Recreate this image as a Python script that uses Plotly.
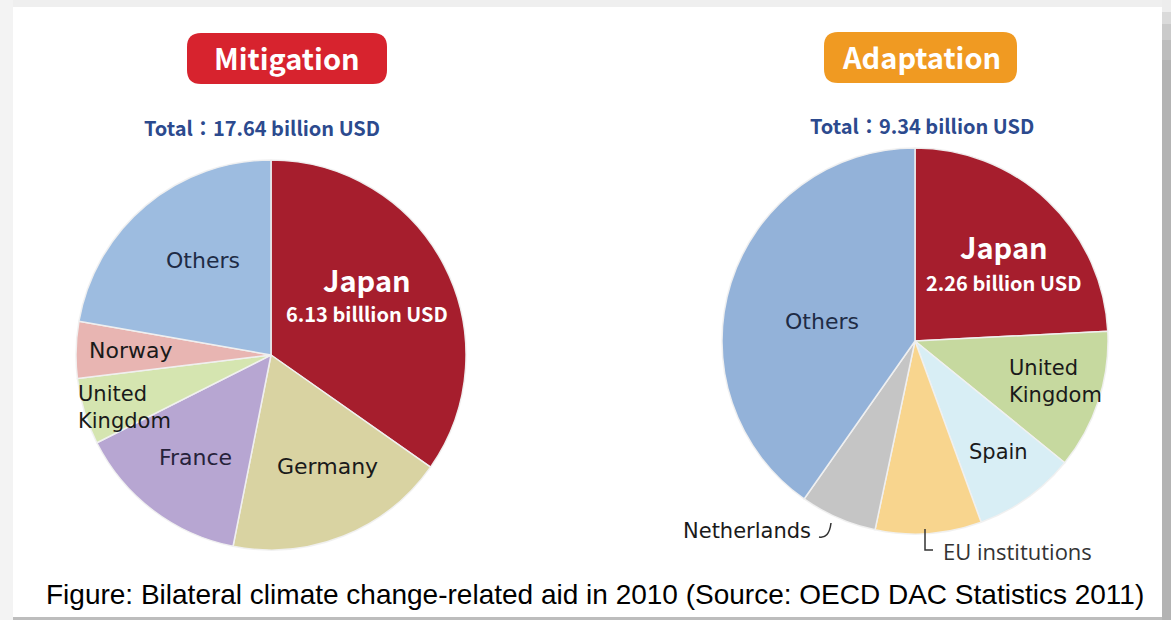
import plotly.graph_objects as go

W, H = 1171, 620

# Mitigation aid, 2010 (billion USD), clockwise from 12 o'clock
mit_donors = ["Japan", "Germany", "France", "United Kingdom", "Norway", "Others"]
mit_values = [6.13, 3.24, 2.55, 0.97, 0.83, 3.92]
mit_total = 17.64

# Adaptation aid, 2010 (billion USD), clockwise from 12 o'clock
ada_donors = ["Japan", "United Kingdom", "Spain", "EU institutions", "Netherlands", "Others"]
ada_values = [2.26, 1.09, 0.80, 0.83, 0.60, 3.76]
ada_total = 9.34

mit_colors = ["#A61E2D", "#D9D3A2", "#B7A6D2", "#D5E5B0", "#E8B5B2", "#9DBCE0"]
ada_colors = ["#A61E2D", "#C6D99F", "#D8EEF5", "#F8D58E", "#C5C5C5", "#93B2D9"]


def X(px):
    return px / W


def Y(py):
    return 1 - py / H


def rounded_path(x0, y0, x1, y1, r):
    return (
        f"M {X(x0 + r)},{Y(y0)} L {X(x1 - r)},{Y(y0)} "
        f"Q {X(x1)},{Y(y0)} {X(x1)},{Y(y0 + r)} L {X(x1)},{Y(y1 - r)} "
        f"Q {X(x1)},{Y(y1)} {X(x1 - r)},{Y(y1)} L {X(x0 + r)},{Y(y1)} "
        f"Q {X(x0)},{Y(y1)} {X(x0)},{Y(y1 - r)} L {X(x0)},{Y(y0 + r)} "
        f"Q {X(x0)},{Y(y0)} {X(x0 + r)},{Y(y0)} Z"
    )


def pie_domain(cx, cy, r):
    return dict(x=[X(cx - r), X(cx + r)], y=[Y(cy + r), Y(cy - r)])


fig = go.Figure()

fig.add_trace(go.Pie(
    labels=mit_donors, values=mit_values, sort=False, direction="clockwise",
    rotation=0, textinfo="none", hoverinfo="label+value",
    marker=dict(colors=mit_colors, line=dict(color="rgba(240,240,240,0.95)", width=1.5)),
    domain=pie_domain(271, 355, 195), showlegend=False,
))
fig.add_trace(go.Pie(
    labels=ada_donors, values=ada_values, sort=False, direction="clockwise",
    rotation=0, textinfo="none", hoverinfo="label+value",
    marker=dict(colors=ada_colors, line=dict(color="rgba(240,240,240,0.95)", width=1.5)),
    domain=pie_domain(915, 341, 193), showlegend=False,
))

BOLD = "Noto Sans CJK JP, Open Sans, sans-serif"
LABEL = "DejaVu Sans, sans-serif"

shapes = []
# page frame
shapes.append(dict(type="rect", xref="paper", yref="paper", x0=0, x1=1, y0=Y(7), y1=1,
                   fillcolor="#EFEFEF", line=dict(width=0), layer="below"))
shapes.append(dict(type="rect", xref="paper", yref="paper", x0=0, x1=X(13), y0=0, y1=1,
                   fillcolor="#F3F3F3", line=dict(width=0), layer="below"))
right_steps = [(0, 12, "#EDEDED"), (12, 24, "#DADADA"), (24, 40, "#CACACA"),
               (40, 60, "#BDBDBD"), (60, 620, "#B3B3B3")]
for a, b, c in right_steps:
    shapes.append(dict(type="rect", xref="paper", yref="paper", x0=X(1162), x1=1,
                       y0=Y(b), y1=Y(a), fillcolor=c, line=dict(width=0), layer="below"))
shapes.append(dict(type="rect", xref="paper", yref="paper", x0=X(13), x1=X(1162),
                   y0=0, y1=Y(617), fillcolor="#BDBDBD", line=dict(width=0), layer="below"))

# title badges
shapes.append(dict(type="path", xref="paper", yref="paper",
                   path=rounded_path(187, 33, 387, 84, 14),
                   fillcolor="#D7232E", line=dict(width=0)))
shapes.append(dict(type="path", xref="paper", yref="paper",
                   path=rounded_path(824, 32, 1017, 83, 14),
                   fillcolor="#F09A22", line=dict(width=0)))

# leader lines for the small adaptation slices
shapes.append(dict(type="path", xref="paper", yref="paper",
                   path=f"M {X(819)},{Y(537)} Q {X(829)},{Y(539)} {X(831)},{Y(523)}",
                   line=dict(color="#333333", width=1.5)))
shapes.append(dict(type="path", xref="paper", yref="paper",
                   path=f"M {X(925)},{Y(529)} L {X(925)},{Y(550)} L {X(933)},{Y(550)}",
                   line=dict(color="#333333", width=1.5)))

annotations = []


def note(text, x, y, size, color, family, xanchor="center", align="center"):
    annotations.append(dict(text=text, x=X(x), y=Y(y), xref="paper", yref="paper",
                            xanchor=xanchor, yanchor="middle", align=align,
                            showarrow=False, font=dict(size=size, color=color, family=family)))


note("<b>Mitigation</b>", 287, 57, 29, "white", BOLD)
note("<b>Adaptation</b>", 921, 56, 29, "white", BOLD)
note(f"<b>Total：{mit_total:.2f} billion USD</b>", 262, 128, 20, "#2C4A8E", BOLD)
note(f"<b>Total：{ada_total:.2f} billion USD</b>", 922, 125, 20, "#2C4A8E", BOLD)

# mitigation labels
note("<b>Japan</b>", 367, 279, 29, "white", BOLD)
note(f"<b>{mit_values[0]:.2f} billlion USD</b>", 367, 313, 20, "white", BOLD)
note("Others", 203, 260, 22, "#1E2B45", LABEL)
note("Norway", 130, 350, 22, "#1A1A1A", LABEL)
note("United<br>Kingdom", 76, 407, 21, "#1A1A1A", LABEL, xanchor="left", align="left")
note("France", 195, 457, 22, "#26223A", LABEL)
note("Germany", 327, 466, 22, "#1A1A1A", LABEL)

# adaptation labels
note("<b>Japan</b>", 1004, 246, 29, "white", BOLD)
note(f"<b>{ada_values[0]:.2f} billion USD</b>", 1003, 282, 20, "white", BOLD)
note("Others", 822, 321, 22, "#1E2B45", LABEL)
note("United<br>Kingdom", 1007, 381, 21, "#1A1A1A", LABEL, xanchor="left", align="left")
note("Spain", 998, 452, 21, "#1A1A1A", LABEL)
note("Netherlands", 747, 531, 21, "#1A1A1A", LABEL)
note("EU institutions", 941, 551, 22, "#333333", "Open Sans, sans-serif", xanchor="left")

# caption
note("Figure: Bilateral climate change-related aid in 2010 (Source: OECD DAC Statistics 2011)",
     595, 594, 28, "#000000", "Liberation Sans, Arial, sans-serif")

fig.update_layout(
    width=W, height=H,
    margin=dict(l=0, r=0, t=0, b=0),
    paper_bgcolor="white", plot_bgcolor="white",
    shapes=shapes, annotations=annotations,
)

fig.write_html("out.html")
